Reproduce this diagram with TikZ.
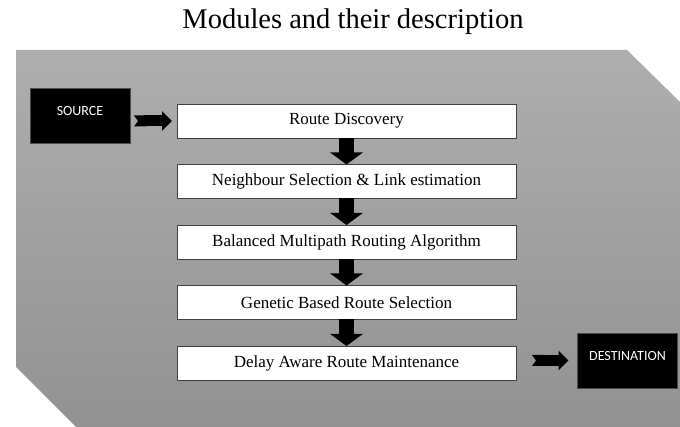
\documentclass[tikz,border=0pt]{standalone}
\usepackage{fontspec}
\setmainfont{Liberation Serif}
\newfontfamily\labelfont{Carlito}
\usetikzlibrary{positioning,arrows.meta}
\definecolor{bgtop}{HTML}{AEAEAE}
\definecolor{bgbottom}{HTML}{929292}

\begin{document}
\begin{tikzpicture}[x=1pt, y=-1pt, node distance=26.5pt,
	module/.style={draw=black!75, fill=white, line width=0.8pt, outer sep=0pt, minimum width=339pt, minimum height=34pt, inner sep=0pt, font=\fontsize{17}{20}\selectfont},
	endpoint/.style={draw=black!70, fill=black, text=white, outer sep=0pt, minimum width=100pt, inner sep=0pt, text height=28pt, text depth=27pt, font=\labelfont\fontsize{14}{16}\selectfont},
	downarrow/.style={line width=15pt, -{Triangle[length=12pt, width=32pt]}},
	sidearrow/.style={line width=11pt, {Triangle Cap[reversed, length=4pt]}-{Triangle[length=10pt, width=19pt]}, shorten <=4pt, shorten >=5pt}]
	\useasboundingbox (0,0) rectangle (680,427);
	\shade[top color=bgtop, bottom color=bgbottom] (16,50) -- (627,50) -- (680,102) -- (680,427) -- (76,427) -- (16,367) -- cycle;
	\node[font=\fontsize{28.5}{32}\selectfont] (title) at (353,22) {Modules and their description};
	\node[module] (disc) at (346.5,121) {Route Discovery};
	\node[module, below=of disc] (nbr) {Neighbour Selection \& Link estimation};
	\node[module, below=of nbr] (bmr) {Balanced Multipath Routing Algorithm};
	\node[module, below=of bmr] (gbr) {Genetic Based Route Selection};
	\node[module, below=of gbr] (delay) {Delay Aware Route Maintenance};
	\node[endpoint] (source) at (80,115.5) {SOURCE};
	\node[endpoint] (dest) at (627.5,360.5) {DESTINATION};
	\draw[downarrow] (disc.south) -- (nbr.north);
	\draw[downarrow] (nbr.south) -- (bmr.north);
	\draw[downarrow] (bmr.south) -- (gbr.north);
	\draw[downarrow] (gbr.south) -- (delay.north);
	\draw[sidearrow] (source.east |- disc.west) -- (disc.west);
	\draw[sidearrow, shorten <=16pt, shorten >=9pt] (delay.east |- dest.west) -- (dest.west);
\end{tikzpicture}
\end{document}
